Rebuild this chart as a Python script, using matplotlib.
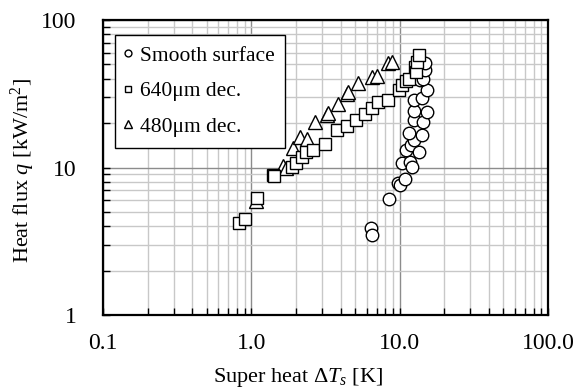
import matplotlib
matplotlib.use('Agg')
import matplotlib.pyplot as plt
from matplotlib.ticker import LogLocator, NullFormatter

plt.rcParams['font.family'] = ['Liberation Serif', 'DejaVu Serif']
plt.rcParams['mathtext.fontset'] = 'custom'
plt.rcParams['mathtext.rm'] = 'Liberation Serif'
plt.rcParams['mathtext.it'] = 'Liberation Serif:italic'

# smooth surface (circles)
smooth_dt = [6.4, 6.5, 8.5, 9.8, 10.1, 10.9, 10.3, 11.7, 12.2, 11.1, 12.0, 13.4,
             12.4, 11.6, 14.1, 12.4, 14.4, 12.4, 15.2, 12.4, 14.1, 15.2, 13.7,
             14.3, 14.8, 14.8]
smooth_q = [3.9, 3.5, 6.1, 7.9, 7.6, 8.3, 10.7, 10.9, 10.1, 13.1, 14.2, 12.8,
            15.3, 17.1, 16.6, 21.0, 20.4, 24.2, 23.9, 28.7, 29.5, 33.5, 39.2,
            39.6, 45.8, 50.9]

# 640 um decoration (squares)
d640_dt = [0.82, 0.90, 1.10, 1.41, 1.43, 1.87, 2.0, 2.2, 2.34, 2.62, 3.14, 3.77,
           4.39, 5.08, 5.84, 6.47, 7.18, 8.37, 9.84, 10.4, 11.1, 11.6, 12.7,
           12.9, 13.0, 13.6]
d640_q = [4.2, 4.5, 6.2, 8.9, 8.7, 10.1, 10.7, 11.8, 12.8, 13.1, 14.4, 18.0,
          19.1, 21.0, 23.1, 25.2, 27.9, 28.7, 33.5, 36.0, 38.6, 39.6, 48.3,
          44.5, 52.2, 57.9]

# 480 um decoration (triangles)
d480_dt = [1.08, 1.64, 1.70, 1.92, 2.13, 2.36, 2.69, 3.22, 3.3, 3.86, 4.39,
           4.51, 5.26, 6.47, 7.0, 8.37, 8.83]
d480_q = [5.9, 10.3, 9.9, 13.5, 16.2, 15.5, 20.4, 22.7, 23.5, 26.8, 31.4,
          32.7, 37.2, 40.9, 41.4, 50.9, 52.2]

fig = plt.figure(figsize=(5.73, 3.89), dpi=100)
ax = fig.add_axes([0.1798, 0.1902, 0.7766, 0.7584])

mk = dict(linestyle='none', markerfacecolor='white', markeredgecolor='black',
          markeredgewidth=1.0, zorder=3)
ax.plot(smooth_dt, smooth_q, marker='o', markersize=9, label='Smooth surface', **mk)
ax.plot(d480_dt, d480_q, marker='^', markersize=10, label='480μm dec.', **mk)
ax.plot(d640_dt, d640_q, marker='s', markersize=8.5, label='640μm dec.', **mk)

ax.set_xscale('log')
ax.set_yscale('log')
ax.set_xlim(0.1, 100)
ax.set_ylim(1, 100)

ax.set_xticks([0.1, 1, 10, 100], labels=['0.1', '1.0', '10.0', '100.0'])
ax.set_yticks([1, 10, 100], labels=['1', '10', '100'])
ax.xaxis.set_minor_locator(LogLocator(base=10, subs=range(2, 10)))
ax.yaxis.set_minor_locator(LogLocator(base=10, subs=range(2, 10)))
ax.xaxis.set_minor_formatter(NullFormatter())
ax.yaxis.set_minor_formatter(NullFormatter())

ax.grid(which='major', color='#8c8c8c', linewidth=1.0)
ax.grid(which='minor', color='#c8c8c8', linewidth=1.0)
ax.set_axisbelow(True)

ax.tick_params(which='both', direction='in', length=5, width=1.0,
               top=False, right=False, labelsize=17)
ax.tick_params(axis='x', which='major', pad=13)
ax.tick_params(axis='y', which='major', pad=19)
for s in ax.spines.values():
    s.set_linewidth(1.6)

ax.set_xlabel(r'Super heat $\Delta T_s$ [K]', fontsize=16)
ax.set_ylabel(r'Heat flux $q$ [kW/m$^2$]', fontsize=16)
ax.xaxis.set_label_coords(0.438, -0.172)
ax.yaxis.set_label_coords(-0.148, 0.49)

h, l = ax.get_legend_handles_labels()
order = [0, 2, 1]
leg = ax.legend([h[i] for i in order], [l[i] for i in order],
                loc='upper left', bbox_to_anchor=(0.027, 0.949),
                borderaxespad=0, fontsize=15.5, markerscale=0.55,
                handlelength=0.2, handletextpad=0.45, labelspacing=0.72,
                borderpad=0.5, fancybox=False, framealpha=1,
                edgecolor='black')
leg.get_frame().set_linewidth(1.0)

fig.savefig('out.png', dpi=100)
